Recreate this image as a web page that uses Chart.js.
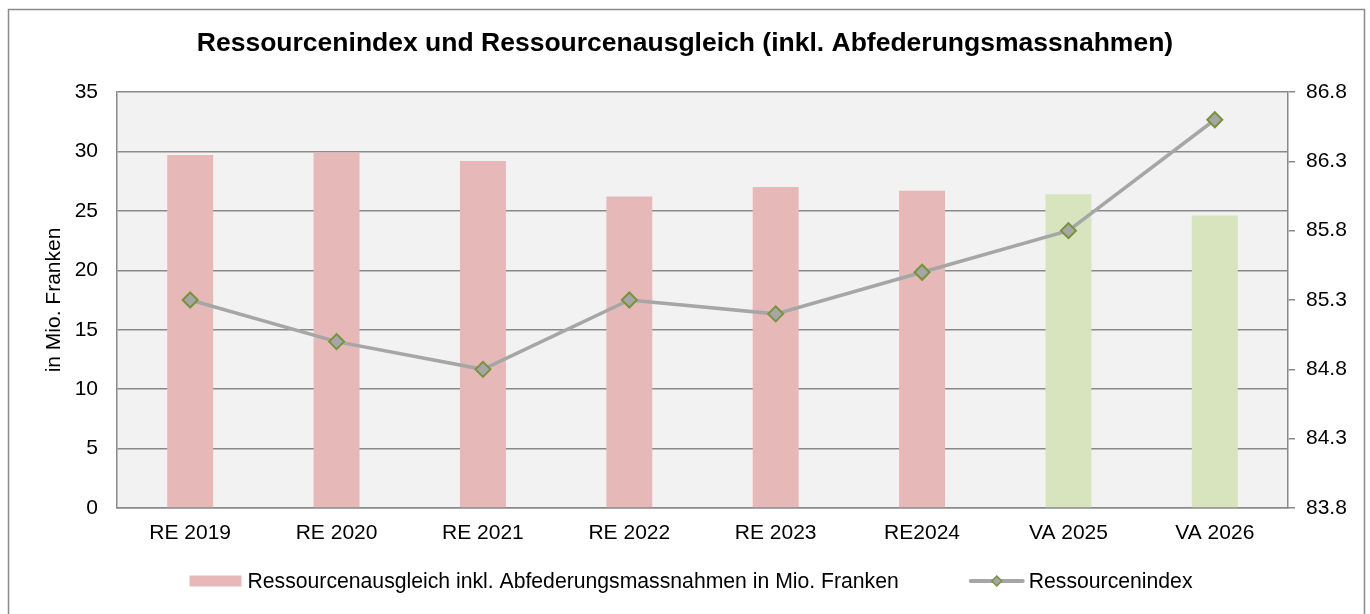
<!DOCTYPE html>
<html>
<head>
<meta charset="utf-8">
<script src="https://cdn.jsdelivr.net/npm/chart.js@4"></script>
<style>
  html, body { margin: 0; padding: 0; background: #fff; }
  #wrap { position: absolute; left: 0; top: 0; width: 1370px; height: 614px; }
</style>
</head>
<body>
<div id="wrap"><canvas id="c" width="1370" height="614"></canvas></div>
<script>
const categories = ['RE 2019', 'RE 2020', 'RE 2021', 'RE 2022', 'RE 2023', 'RE2024', 'VA 2025', 'VA 2026'];
const ausgleich = [29.7, 29.9, 29.2, 26.2, 27.0, 26.7, 26.4, 24.6];
const ressourcenindex = [85.3, 85.0, 84.8, 85.3, 85.2, 85.5, 85.8, 86.6];
const leftTicks = [0, 5, 10, 15, 20, 25, 30, 35];
const rightTicks = [83.8, 84.3, 84.8, 85.3, 85.8, 86.3, 86.8];
const titleText = 'Ressourcenindex und Ressourcenausgleich (inkl. Abfederungsmassnahmen)';
const barLabel = 'Ressourcenausgleich inkl. Abfederungsmassnahmen in Mio. Franken';
const lineLabel = 'Ressourcenindex';
const yTitle = 'in Mio. Franken';

const FONT = "'Liberation Sans', Arial, sans-serif";
const PINK = '#E6B9B8';
const GREEN = '#D7E4BD';
const GRID = '#898989';
const LINE = '#A6A6A6';
const MARK_BORDER = '#77933C';

const bgPlugin = {
  id: 'bg',
  beforeDraw(chart) {
    const ctx = chart.ctx, a = chart.chartArea;
    ctx.save();
    ctx.fillStyle = '#ffffff';
    ctx.fillRect(0, 0, chart.width, chart.height);
    ctx.fillStyle = '#F2F2F2';
    ctx.fillRect(a.left, a.top, a.right - a.left, a.bottom - a.top);
    ctx.strokeStyle = '#8a8a8a';
    ctx.lineWidth = 1.5;
    ctx.strokeRect(8.5, 9.5, 1356, 640);
    ctx.restore();
  }
};

const legendPlugin = {
  id: 'customLegend',
  afterDraw(chart) {
    const ctx = chart.ctx;
    ctx.save();
    ctx.font = '21.2px ' + FONT;
    const w1 = ctx.measureText(barLabel).width;
    const w2 = ctx.measureText(lineLabel).width;
    const box = 52, gapText = 6, gapItems = 70, lineLen = 56, gapText2 = 4;
    const total = box + gapText + w1 + gapItems + lineLen + gapText2 + w2;
    let x = 691 - total / 2;
    const y = chart.chartArea.bottom + 73;
    ctx.fillStyle = PINK;
    ctx.fillRect(x, y - 5.5, box, 11);
    x += box + gapText;
    ctx.fillStyle = '#000';
    ctx.textBaseline = 'middle';
    ctx.textAlign = 'left';
    ctx.fillText(barLabel, x, y + 1);
    x += w1 + gapItems;
    ctx.strokeStyle = LINE;
    ctx.lineWidth = 4;
    ctx.lineCap = 'round';
    ctx.beginPath();
    ctx.moveTo(x + 2, y);
    ctx.lineTo(x + lineLen - 2, y);
    ctx.stroke();
    const cx = x + lineLen / 2, r = 5;
    ctx.beginPath();
    ctx.moveTo(cx - r, y); ctx.lineTo(cx, y - r); ctx.lineTo(cx + r, y); ctx.lineTo(cx, y + r); ctx.closePath();
    ctx.fillStyle = LINE; ctx.fill();
    ctx.strokeStyle = MARK_BORDER; ctx.lineWidth = 1.5; ctx.stroke();
    x += lineLen + gapText2;
    ctx.fillStyle = '#000';
    ctx.fillText(lineLabel, x, y + 1);
    ctx.restore();
  }
};

new Chart(document.getElementById('c'), {
  data: {
    labels: categories,
    datasets: [
      {
        type: 'line',
        label: lineLabel,
        data: ressourcenindex,
        yAxisID: 'y1',
        borderColor: LINE,
        borderWidth: 3.5,
        pointStyle: 'rectRot',
        pointRadius: 7.5,
        pointBorderWidth: 2,
        pointBackgroundColor: LINE,
        pointBorderColor: MARK_BORDER,
        tension: 0,
        order: 0
      },
      {
        type: 'bar',
        label: barLabel,
        data: ausgleich,
        yAxisID: 'y',
        backgroundColor: categories.map(c => c.startsWith('VA') ? GREEN : PINK),
        barPercentage: 0.314,
        categoryPercentage: 1,
        order: 1
      }
    ]
  },
  plugins: [bgPlugin, legendPlugin],
  options: {
    responsive: false,
    animation: false,
    layout: { padding: { left: 0, right: 0, top: 0, bottom: 66 } },
    plugins: {
      legend: { display: false },
      tooltip: { enabled: false },
      title: {
        display: true,
        text: titleText,
        color: '#000',
        font: { family: FONT, size: 26.5, weight: 'bold' },
        padding: { top: 28.1, bottom: 32.1 }
      }
    },
    scales: {
      x: {
        offset: true,
        grid: { display: false, drawTicks: false },
        border: { display: true, color: GRID, width: 1.5 },
        ticks: { color: '#000', font: { family: FONT, size: 21 }, padding: 13, maxRotation: 0, autoSkip: false },
        afterFit(s) { s.height = 40; }
      },
      y: {
        position: 'left',
        min: 0, max: 35,
        afterBuildTicks(s) { s.ticks = leftTicks.map(v => ({ value: v })); },
        grid: { color: GRID, lineWidth: 1.5, drawTicks: false },
        border: { display: true, color: GRID, width: 1.5 },
        ticks: { color: '#000', font: { family: FONT, size: 21 }, padding: 19 },
        title: { display: true, text: yTitle, color: '#000', font: { family: FONT, size: 21 }, padding: { top: 42, bottom: 0 } },
        afterFit(s) { s.width = 117; }
      },
      y1: {
        position: 'right',
        min: 83.8, max: 86.8,
        afterBuildTicks(s) { s.ticks = rightTicks.map(v => ({ value: v })); },
        grid: { drawOnChartArea: false, drawTicks: true, tickLength: 7, color: GRID, lineWidth: 1.5 },
        border: { display: true, color: GRID, width: 1.5 },
        ticks: { color: '#000', font: { family: FONT, size: 21 }, padding: 11, callback: v => Number(v).toFixed(1) },
        afterFit(s) { s.width = 82; }
      }
    }
  }
});
</script>
</body>
</html>
